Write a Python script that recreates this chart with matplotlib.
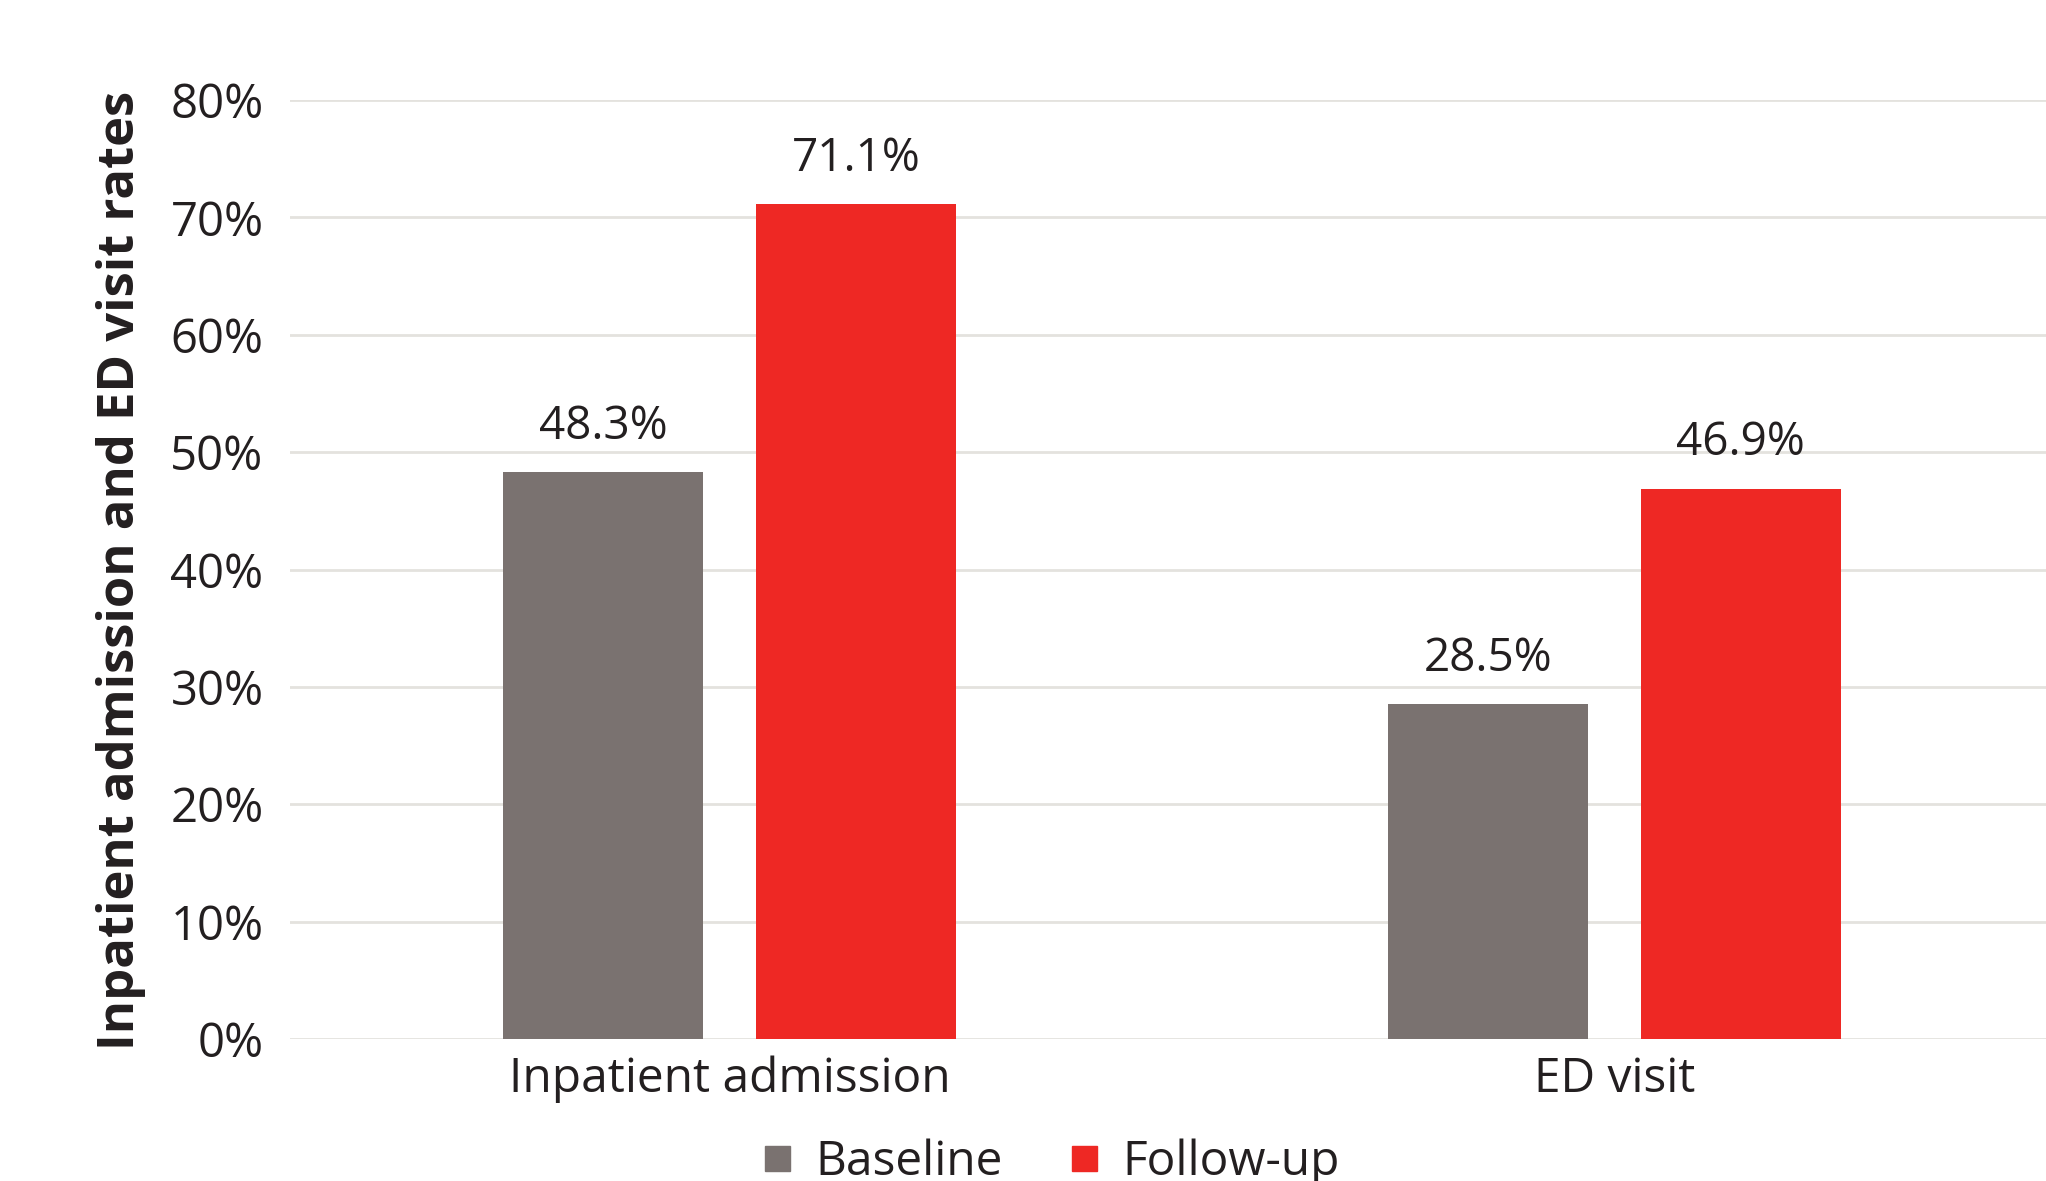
import matplotlib
matplotlib.use("Agg")
import matplotlib.pyplot as plt
from matplotlib.lines import Line2D
import numpy as np

categories = ["Inpatient admission", "ED visit"]
series_names = ["Baseline", "Follow-up"]
baseline = [48.3, 28.5]
followup = [71.1, 46.9]
yticks = [0, 10, 20, 30, 40, 50, 60, 70, 80]

GRAY = "#7a7270"
RED = "#ee2824"
TEXT = "#231f20"
GRID = "#e4e2de"

plt.rcParams['font.family'] = ['Open Sans', 'DejaVu Sans']

fig = plt.figure(figsize=(20.46, 11.81), dpi=100)
ax = fig.add_axes([290/2046, 1 - 1039/1181, 1 - 290/2046, (1039 - 100)/1181])

x = np.arange(len(categories))
w = 0.226
off = 0.143
b1 = ax.bar(x - off, baseline, width=w, color=GRAY, zorder=3)
b2 = ax.bar(x + off, followup, width=w, color=RED, zorder=3)

for bars, vals in ((b1, baseline), (b2, followup)):
    for r, v in zip(bars, vals):
        ax.annotate(f"{v:.1f}%", (r.get_x() + r.get_width()/2, v),
                    xytext=(0, 24), textcoords="offset points",
                    ha="center", va="baseline", fontsize=33, color=TEXT)

ax.set_xlim(-0.497, 1.488)
ax.set_ylim(0, 80)
ax.set_yticks(yticks)
ax.set_yticklabels([f"{t}%" for t in yticks], fontsize=34, color=TEXT)
ax.set_xticks(x)
ax.set_xticklabels(categories, fontsize=34.5, color=TEXT)
ax.tick_params(axis="both", length=0)
ax.tick_params(axis="y", pad=19)
ax.tick_params(axis="x", pad=12)
ax.grid(axis="y", color=GRID, linewidth=2, zorder=0)
for s in ax.spines.values():
    s.set_visible(False)

fig.text(121/2046, 1 - 570/1181, "Inpatient admission and ED visit rates",
         rotation=90, ha="center", va="center", fontsize=36.5,
         fontweight="bold", color=TEXT)

handles = [Line2D([], [], marker="s", linestyle="none", markersize=18, color=GRAY),
           Line2D([], [], marker="s", linestyle="none", markersize=18, color=RED)]
fig.legend(handles, series_names, loc="center", bbox_to_anchor=(1049/2046, 1 - 1162/1181),
           ncol=2, frameon=False, fontsize=34.5, handletextpad=0.4, columnspacing=1.3,
           handlelength=0.8, labelcolor=TEXT)

fig.savefig("out.png", dpi=100)
